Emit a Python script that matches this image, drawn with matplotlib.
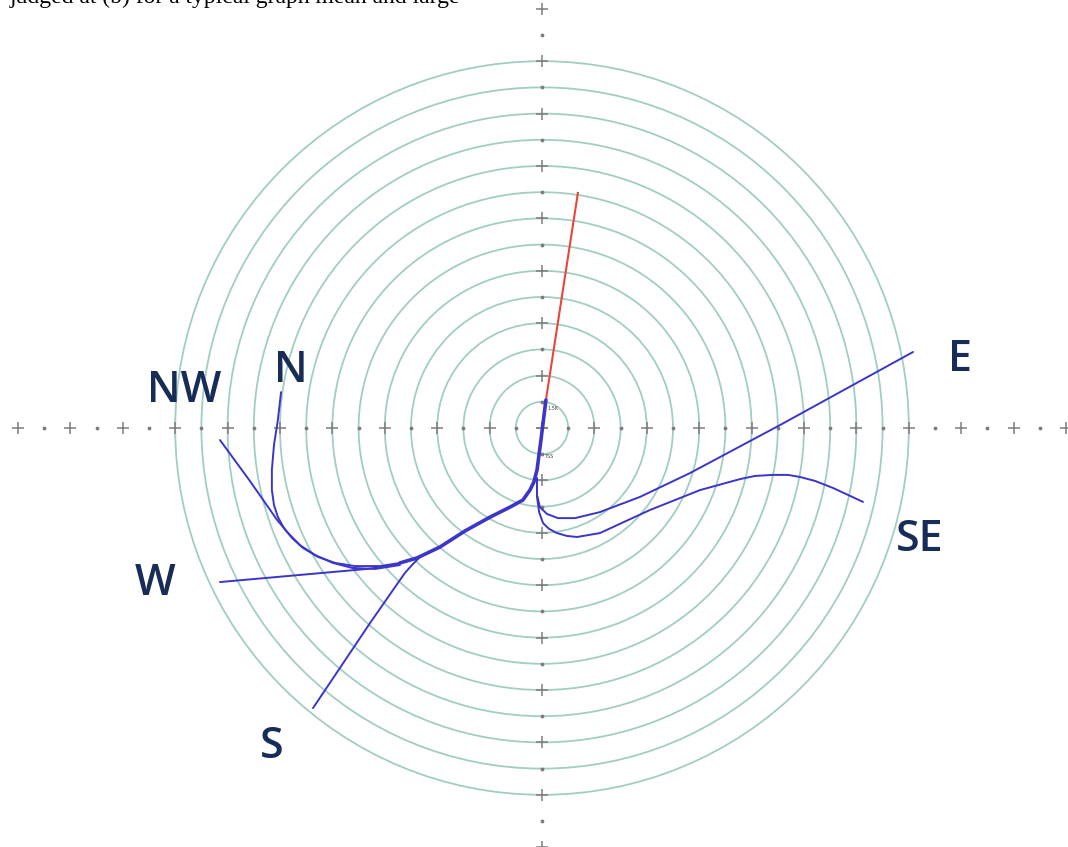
import matplotlib
matplotlib.use("Agg")
import matplotlib.pyplot as plt
import numpy as np
from matplotlib.patches import Circle

# ---- data (units = one ring spacing, centre at 0,0) ----
ring_radii = np.arange(1, 15)
tick_x = np.arange(-20, 21)
tick_y = np.arange(-16, 17)

red_x = [0.15, 1.37]
red_y = [1.07, 8.97]

# common stem shared by the left branches
stem_x = [0.15, -0.04, -0.19, -0.31, -0.46, -0.73, -1.22, -1.98, -2.94, -3.89, -4.77, -5.42]
stem_y = [1.07, -0.46, -1.60, -2.06, -2.37, -2.75, -3.02, -3.40, -3.93, -4.54, -4.96, -5.15]

s_x = [-4.66, -4.96, -5.23, -5.42, -6.56, -8.74]
s_y = [-4.92, -5.23, -5.53, -5.80, -7.44, -10.69]

w_x = [-4.77, -5.61, -6.68, -12.29]
w_y = [-4.96, -5.23, -5.38, -5.88]

nw_x = [-5.42, -6.37, -7.25, -7.98, -8.66, -9.24, -9.69, -10.11, -11.15, -12.29]
nw_y = [-5.23, -5.38, -5.34, -5.15, -4.85, -4.47, -4.01, -3.51, -2.02, -0.46]

n_x = [-5.42, -6.18, -7.14, -7.90, -8.55, -9.12, -9.54, -9.85, -10.08, -10.23, -10.31, -10.31, -10.23, -10.08, -9.96]
n_y = [-5.15, -5.27, -5.27, -5.15, -4.92, -4.58, -4.20, -3.82, -3.40, -2.94, -2.37, -1.60, -0.65, 0.31, 1.37]

e_x = [-0.19, -0.19, -0.08, 0.19, 0.61, 1.26, 2.21, 3.74, 5.65, 9.08, 14.16]
e_y = [-1.91, -2.56, -3.02, -3.28, -3.44, -3.44, -3.21, -2.63, -1.72, 0.11, 2.90]

se_x = [-0.19, -0.19, -0.11, 0.04, 0.27, 0.57, 0.95, 1.34, 2.21, 4.12, 6.03, 7.56,
        8.13, 8.82, 9.39, 9.85, 10.42, 11.11, 12.25]
se_y = [-1.98, -2.63, -3.21, -3.63, -3.85, -4.01, -4.12, -4.16, -4.01, -3.13, -2.37, -1.95,
        -1.83, -1.79, -1.79, -1.87, -2.02, -2.29, -2.82]

labels = ["NW", "N", "E", "SE", "W", "S"]
label_x = [-13.67, -9.58, 15.95, 14.43, -14.77, -10.31]
label_y = [1.45, 2.21, 2.60, -4.27, -5.92, -12.14]

# ---- figure ----
s = 26.2
cx, cy = 542, 428
fig = plt.figure(figsize=(10.68, 8.47), dpi=100)
ax = fig.add_axes([0, 0, 1, 1])
ax.set_xlim(-cx / s, (1068 - cx) / s)
ax.set_ylim(-(847 - cy) / s, cy / s)
ax.axis("off")

ring_color = "#a2cdc3"
for r in ring_radii:
    ax.add_patch(Circle((0, 0), r, fill=False, ec=ring_color, lw=1.3, zorder=1))

# axis ticks: crosses on even steps, dots on odd steps
even_x = tick_x[tick_x % 2 == 0]
odd_x = tick_x[tick_x % 2 != 0]
even_y = tick_y[tick_y % 2 == 0]
odd_y = tick_y[tick_y % 2 != 0]
tick_col = "#7d7d7d"
ax.plot(even_x, np.zeros_like(even_x), ls="none", marker="+", ms=8, mew=1.1, color=tick_col, zorder=2)
ax.plot(odd_x, np.zeros_like(odd_x), ls="none", marker=".", ms=3.5, color=tick_col, zorder=2)
ax.plot(np.zeros_like(even_y), even_y, ls="none", marker="+", ms=8, mew=1.1, color=tick_col, zorder=2)
ax.plot(np.zeros_like(odd_y), odd_y, ls="none", marker=".", ms=3.5, color=tick_col, zorder=2)

blue = "#3b35c8"
lw = 1.4
ax.plot(red_x, red_y, color="#e8463c", lw=1.5, zorder=3)
ax.plot(stem_x, stem_y, color=blue, lw=2.6, zorder=3, solid_capstyle="round", solid_joinstyle="round")
for xs, ys in [(s_x, s_y), (w_x, w_y), (nw_x, nw_y), (n_x, n_y), (e_x, e_y), (se_x, se_y)]:
    ax.plot(xs, ys, color=blue, lw=lw, zorder=3, solid_capstyle="round", solid_joinstyle="round")

ax.text(0.42, 0.73, "1.5K", fontsize=3.5, color="#444444", ha="center", va="center")
ax.text(0.25, -1.07, "TSS", fontsize=3.5, color="#444444", ha="center", va="center")

for lab, x, y in zip(labels, label_x, label_y):
    ax.text(x, y, lab, fontsize=31, color="#172c57", ha="center", va="center",
            family="Open Sans", fontweight="semibold")

# caption of the page above, only its lower edge shows
fig.text(10 / 1068, 1 - 3 / 847, "judged at (b) for a typical graph mean and large",
         fontsize=17, family="Liberation Serif", ha="left", va="baseline")

fig.savefig("out.png", dpi=100, facecolor="white")
